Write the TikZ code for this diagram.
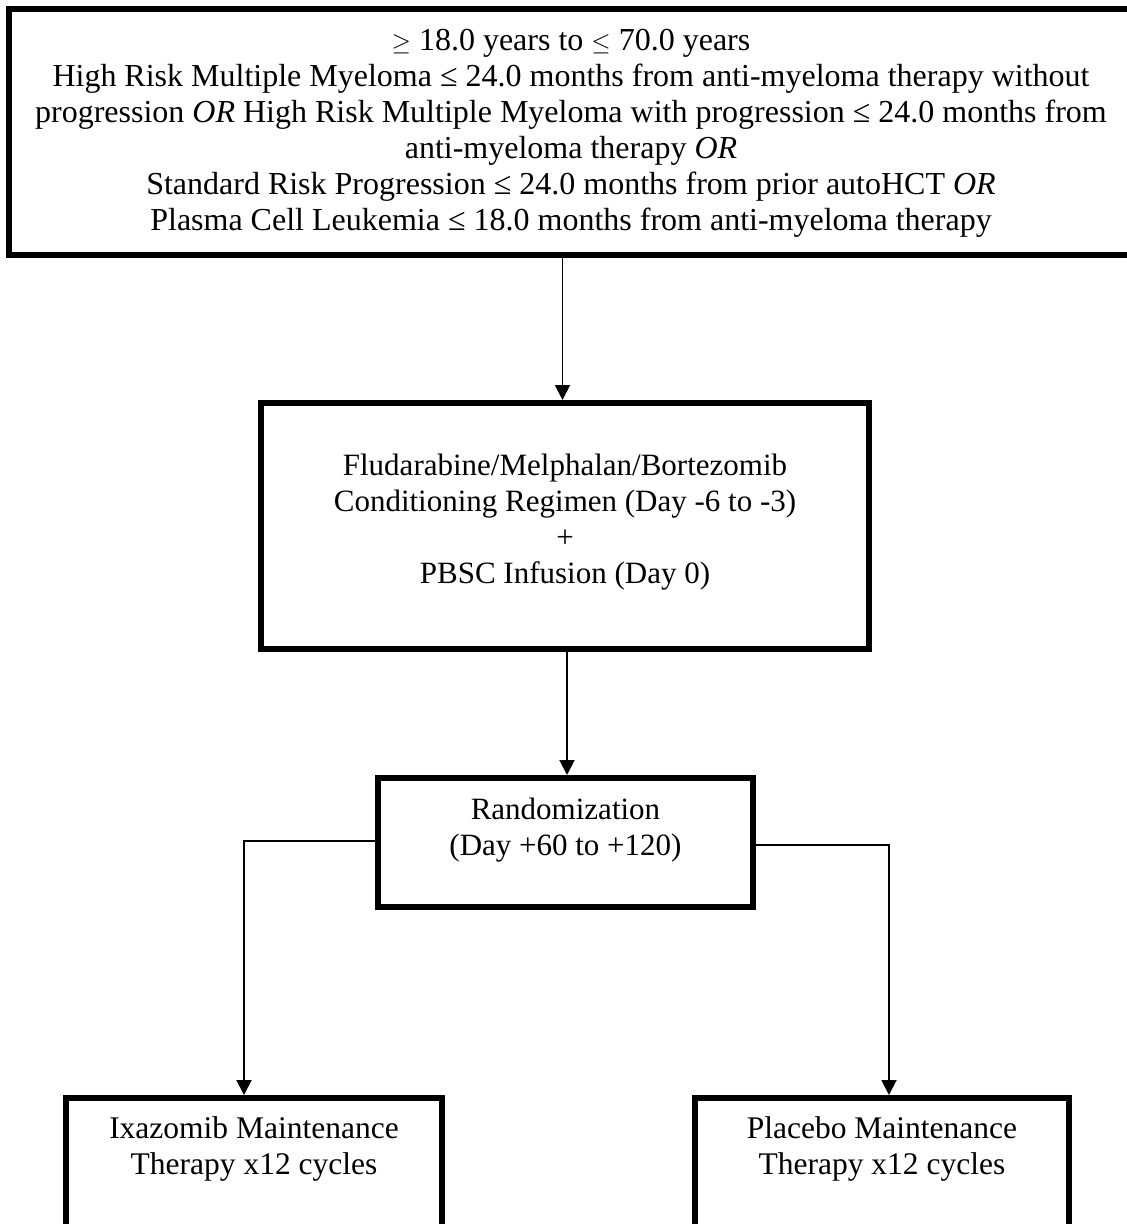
\documentclass[tikz,border=0pt]{standalone}
\usepackage{fontspec}
\setmainfont{Liberation Serif}
\usetikzlibrary{arrows.meta}
\begin{document}
\begin{tikzpicture}[x=1pt,y=-1pt,
  box/.style={draw, line width=6pt, align=center, font=\fontsize{31}{36}\selectfont, inner sep=0pt},
  arr/.style={line width=1.9pt, -{Triangle[width=15pt,length=15pt]}}]
\useasboundingbox (0,0) rectangle (1127,1224);
\clip (0,0) rectangle (1127,1224);

\node[box, font=\fontsize{32}{36}\selectfont, minimum width=1124pt, minimum height=246.5pt] (top) at (571,132)
 {\strut $\geq$ 18.0 years to $\leq$ 70.0 years\\
  High Risk Multiple Myeloma ≤ 24.0 months from anti-myeloma therapy without\\
  progression \textit{OR} High Risk Multiple Myeloma with progression ≤ 24.0 months from\\
  anti-myeloma therapy \textit{OR}\\
  Standard Risk Progression ≤ 24.0 months from prior autoHCT \textit{OR}\\
  Plasma Cell Leukemia ≤ 18.0 months from anti-myeloma therapy\rule[-9.2pt]{0pt}{1pt}};

\node[box, minimum width=608pt, minimum height=246pt] (fmb) at (565,526)
 {\strut Fludarabine/Melphalan/Bortezomib\\
  Conditioning Regimen (Day -6 to -3)\\
  +\\
  PBSC Infusion (Day 0)\rule[-19.2pt]{0pt}{1pt}};

\node[box, minimum width=375pt, minimum height=129pt] (rand) at (565.5,842.5)
 {\strut Randomization\\
  (Day +60 to +120)\rule[-36.2pt]{0pt}{1pt}};

\node[box, font=\fontsize{31.5}{36}\selectfont, minimum width=376pt, minimum height=142pt] (ixa) at (254,1169)
 {\strut Ixazomib Maintenance\\
  Therapy x12 cycles\rule[-51.2pt]{0pt}{1pt}};

\node[box, font=\fontsize{31.5}{36}\selectfont, minimum width=374pt, minimum height=142pt] (pla) at (882,1169)
 {\strut Placebo Maintenance\\
  Therapy x12 cycles\rule[-51.2pt]{0pt}{1pt}};

\coordinate (c1) at (562.5,0);
\coordinate (c2) at (567,0);
\coordinate (cl) at (244,841);
\coordinate (cr) at (889,845);

\draw[arr] (c1 |- top.south) -- (c1 |- fmb.north);
\draw[arr] (c2 |- fmb.south) -- (c2 |- rand.north);
\draw[arr] (cl -| rand.west) -- (cl) -- (cl |- ixa.north);
\draw[arr] (cr -| rand.east) -- (cr) -- (cr |- pla.north);
\end{tikzpicture}
\end{document}
